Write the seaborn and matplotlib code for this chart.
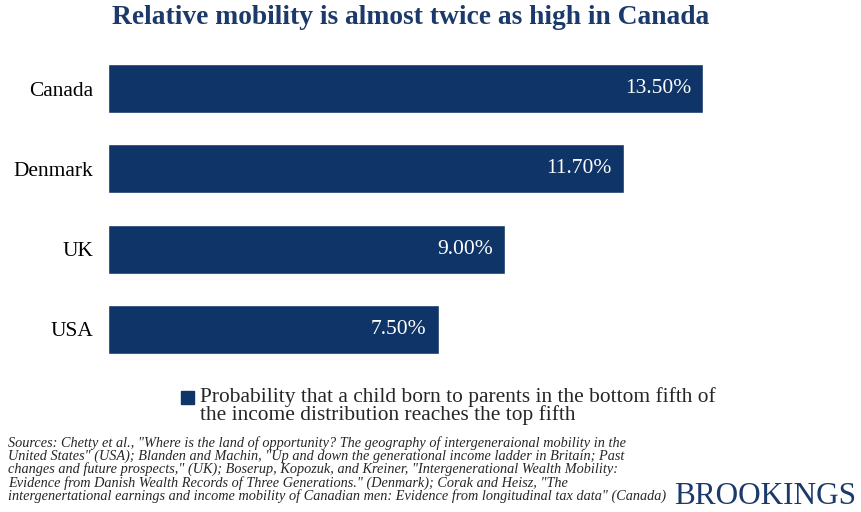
import matplotlib.pyplot as plt
import pandas as pd
import seaborn as sns
from matplotlib.patches import Patch

# --- Data ---
countries = ["Canada", "Denmark", "UK", "USA"]
mobility_pct = [13.5, 11.7, 9.0, 7.5]
value_labels = ["13.50%", "11.70%", "9.00%", "7.50%"]

TITLE = "Relative mobility is almost twice as high in Canada"
LEGEND_LABEL = ("Probability that a child born to parents in the bottom fifth of\n"
                "the income distribution reaches the top fifth")
SOURCES = (
    'Sources: Chetty et al., "Where is the land of opportunity? The geography of intergeneraional mobility in the\n'
    'United States" (USA); Blanden and Machin, "Up and down the generational income ladder in Britain; Past\n'
    'changes and future prospects," (UK); Boserup, Kopozuk, and Kreiner, "Intergenerational Wealth Mobility:\n'
    'Evidence from Danish Wealth Records of Three Generations." (Denmark); Corak and Heisz, "The\n'
    'intergenertational earnings and income mobility of Canadian men: Evidence from longitudinal tax data" (Canada)'
)

BAR_COLOR = "#0f3568"
TITLE_COLOR = "#1b3a6b"
SERIF = ["Liberation Serif", "DejaVu Serif"]

df = pd.DataFrame({"country": countries, "pct": mobility_pct})

sns.set_theme(style="white")
plt.rcParams["font.family"] = SERIF

fig = plt.figure(figsize=(8.61, 5.12), dpi=100)
# axes placed so bars start at x=108px and rows sit at the reference height
ax = fig.add_axes([108 / 861, 0.2783, 661 / 861, 0.627])

sns.barplot(data=df, x="pct", y="country", color=BAR_COLOR, saturation=1,
            width=0.61, orient="h", ax=ax)
ax.set_xlim(0, 15)
ax.set_ylim(3.5, -0.5)

for i, (v, lab) in enumerate(zip(mobility_pct, value_labels)):
    ax.text(v - 0.27, i, lab, ha="right", va="center", color="white",
            fontsize=15.5, family=SERIF)

ax.set_xlabel("")
ax.set_ylabel("")
ax.set_xticks([])
ax.tick_params(axis="y", length=0, pad=10.5, labelsize=15.4, labelcolor="black")
for s in ax.spines.values():
    s.set_visible(False)

fig.text(411 / 861, 1 - 17 / 512, TITLE, ha="center", va="center", fontsize=19.8,
         fontweight="bold", color=TITLE_COLOR)

leg = fig.legend(handles=[Patch(color=BAR_COLOR)], labels=[LEGEND_LABEL],
                 loc="center left", bbox_to_anchor=(181 / 861, 1 - 406 / 512),
                 frameon=False, fontsize=15.4, handlelength=0.62, handleheight=0.55,
                 handletextpad=0.25, borderpad=0, borderaxespad=0)
leg.get_texts()[0].set_linespacing(0.82)
# lift the marker to sit beside the first line, as in the reference
h = leg.legend_handles[0]
h.set_y(h.get_y() + 6)

fig.text(8 / 861, 1 - 436 / 512, SOURCES, ha="left", va="top", fontsize=10.3,
         style="italic", linespacing=0.95)

fig.text(856 / 861, 1 - 497 / 512, "BROOKINGS", ha="right", va="center",
         fontsize=22.5, color=TITLE_COLOR)

fig.savefig("out.png", dpi=100)
